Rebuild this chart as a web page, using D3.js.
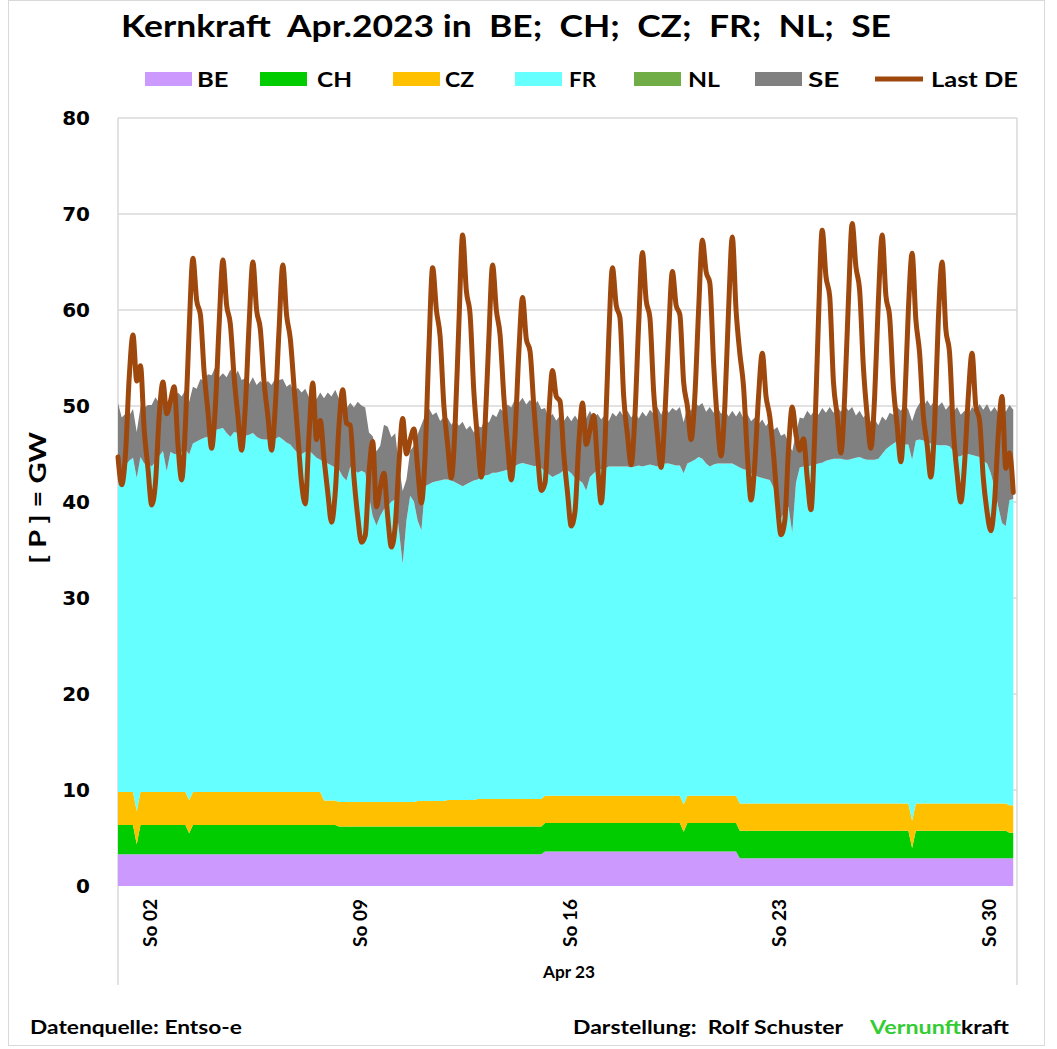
<!DOCTYPE html>
<html>
<head>
<meta charset="utf-8">
<script src="https://cdn.jsdelivr.net/npm/d3@7"></script>
<style>
html,body{margin:0;padding:0;background:#fff;}
svg{display:block;}
text{font-family:Lato,"Open Sans",sans-serif;font-weight:bold;fill:#000;white-space:pre;}
</style>
</head>
<body>
<svg id="chart" width="1057" height="1049"></svg>
<script>
// ---------------- DATA (3-hour steps, 1 Apr 2023 00:00 .. 30 Apr 2023 21:00) ----------------
const categories = ["BE","CH","CZ","FR","NL","SE"];
const colors = {BE:"#CC99FF", CH:"#00CC00", CZ:"#FFC000", FR:"#66FFFF", NL:"#70AD47", SE:"#808080"};
const loadName = "Last DE";
const loadColor = "#9E480E";
const yTicks = [0,10,20,30,40,50,60,70,80];
const xTickDays = [2,9,16,23,30];
const xTickLabels = ["So 02","So 09","So 16","So 23","So 30"];
const xAxisTitle = "Apr 23";
const title = "Kernkraft  Apr.2023 in  BE;  CH;  CZ;  FR;  NL;  SE";

const be = [
3.3,3.3,3.3,3.3,3.3,3.3,3.3,3.3, 3.3,3.3,3.3,3.3,3.3,3.3,3.3,3.3, 3.3,3.3,3.3,3.3,3.3,3.3,3.3,3.3,
3.3,3.3,3.3,3.3,3.3,3.3,3.3,3.3, 3.3,3.3,3.3,3.3,3.3,3.3,3.3,3.3, 3.3,3.3,3.3,3.3,3.3,3.3,3.3,3.3,
3.3,3.3,3.3,3.3,3.3,3.3,3.3,3.3, 3.3,3.3,3.3,3.3,3.3,3.3,3.3,3.3, 3.3,3.3,3.3,3.3,3.3,3.3,3.3,3.3,
3.3,3.3,3.3,3.3,3.3,3.3,3.3,3.3, 3.3,3.3,3.3,3.3,3.3,3.3,3.3,3.3, 3.3,3.3,3.3,3.3,3.3,3.3,3.3,3.3,
3.3,3.3,3.3,3.3,3.3,3.3,3.3,3.3, 3.3,3.3,3.3,3.3,3.3,3.3,3.3,3.3, 3.3,3.3,3.6,3.6,3.6,3.6,3.6,3.6,
3.6,3.6,3.6,3.6,3.6,3.6,3.6,3.6, 3.6,3.6,3.6,3.6,3.6,3.6,3.6,3.6, 3.6,3.6,3.6,3.6,3.6,3.6,3.6,3.6,
3.6,3.6,3.6,3.6,3.6,3.6,3.6,3.6, 3.6,3.6,3.6,3.6,3.6,3.6,3.6,3.6, 3.6,3.6,3.6,3.6,3.6,3.6,2.9,2.9,
2.9,2.9,2.9,2.9,2.9,2.9,2.9,2.9, 2.9,2.9,2.9,2.9,2.9,2.9,2.9,2.9, 2.9,2.9,2.9,2.9,2.9,2.9,2.9,2.9,
2.9,2.9,2.9,2.9,2.9,2.9,2.9,2.9, 2.9,2.9,2.9,2.9,2.9,2.9,2.9,2.9, 2.9,2.9,2.9,2.9,2.9,2.9,2.9,2.9,
2.9,2.9,2.9,2.9,2.9,2.9,2.9,2.9, 2.9,2.9,2.9,2.9,2.9,2.9,2.9,2.9, 2.9,2.9,2.9,2.9,2.9,2.9,2.9,2.9
];
const ch = [
3.05,3.05,3.05,3.05,3.05,1.05,3.05,3.05, 3.05,3.05,3.05,3.05,3.05,3.05,3.05,3.05, 3.05,3.05,3.05,2.2,3.05,3.05,3.05,3.05,
3.05,3.05,3.05,3.05,3.05,3.05,3.05,3.05, 3.05,3.05,3.05,3.05,3.05,3.05,3.05,3.05, 3.05,3.05,3.05,3.05,3.05,3.05,3.05,3.05,
3.05,3.05,3.05,3.05,3.05,3.05,3.05,3.05, 3.05,3.05,3.05,2.9,2.9,2.9,2.9,2.9, 2.9,2.9,2.9,2.9,2.9,2.9,2.9,2.9,
2.9,2.9,2.9,2.9,2.9,2.9,2.9,2.9, 2.9,2.9,2.9,2.9,2.9,2.9,2.9,2.9, 2.9,2.9,2.9,2.9,2.9,2.9,2.9,2.9,
2.9,2.9,2.9,2.9,2.9,2.9,2.9,2.9, 2.9,2.9,2.9,2.9,2.9,2.9,2.9,2.9, 2.9,2.9,2.95,2.95,2.95,2.95,2.95,2.95,
2.95,2.95,2.95,2.95,2.95,2.95,2.95,2.95, 2.95,2.95,2.95,2.95,2.95,2.95,2.95,2.95, 2.95,2.95,2.95,2.95,2.95,2.95,2.95,2.95,
2.95,2.95,2.95,2.95,2.95,2.95,2.95,2.05, 2.95,2.95,2.95,2.95,2.95,2.95,2.95,2.95, 2.95,2.95,2.95,2.95,2.95,2.95,2.85,2.85,
2.85,2.85,2.85,2.85,2.85,2.85,2.85,2.85, 2.85,2.85,2.85,2.85,2.85,2.85,2.85,2.85, 2.85,2.85,2.85,2.85,2.85,2.85,2.85,2.85,
2.85,2.85,2.85,2.85,2.85,2.85,2.85,2.85, 2.85,2.85,2.85,2.85,2.85,2.85,2.85,2.85, 2.85,2.85,2.85,2.85,1.05,2.85,2.85,2.85,
2.85,2.85,2.85,2.85,2.85,2.85,2.85,2.85, 2.85,2.85,2.85,2.85,2.85,2.85,2.85,2.85, 2.85,2.85,2.85,2.85,2.85,2.85,2.65,2.65
];
const cz = [
3.45,3.45,3.45,3.45,3.45,3.45,3.45,3.45, 3.45,3.45,3.45,3.45,3.45,3.45,3.45,3.45, 3.45,3.45,3.45,3.45,3.45,3.45,3.45,3.45,
3.45,3.45,3.45,3.45,3.45,3.45,3.45,3.45, 3.45,3.45,3.45,3.45,3.45,3.45,3.45,3.45, 3.45,3.45,3.45,3.45,3.45,3.45,3.45,3.45,
3.45,3.45,3.45,3.45,3.45,3.45,3.45,2.55, 2.55,2.55,2.55,2.55,2.55,2.55,2.55,2.55, 2.55,2.55,2.55,2.55,2.55,2.55,2.55,2.55,
2.55,2.55,2.55,2.55,2.55,2.55,2.55,2.55, 2.65,2.65,2.65,2.65,2.65,2.65,2.65,2.65, 2.75,2.75,2.75,2.75,2.75,2.75,2.75,2.75,
2.85,2.85,2.85,2.85,2.85,2.85,2.85,2.85, 2.85,2.85,2.85,2.85,2.85,2.85,2.85,2.85, 2.85,2.85,2.85,2.85,2.85,2.85,2.85,2.85,
2.85,2.85,2.85,2.85,2.85,2.85,2.85,2.85, 2.85,2.85,2.85,2.85,2.85,2.85,2.85,2.85, 2.85,2.85,2.85,2.85,2.85,2.85,2.85,2.85,
2.85,2.85,2.85,2.85,2.85,2.85,2.85,2.85, 2.85,2.85,2.85,2.85,2.85,2.85,2.85,2.85, 2.85,2.85,2.85,2.85,2.85,2.85,2.85,2.85,
2.85,2.85,2.85,2.85,2.85,2.85,2.85,2.85, 2.85,2.85,2.85,2.85,2.85,2.85,2.85,2.85, 2.85,2.85,2.85,2.85,2.85,2.85,2.85,2.85,
2.85,2.85,2.85,2.85,2.85,2.85,2.85,2.85, 2.85,2.85,2.85,2.85,2.85,2.85,2.85,2.85, 2.85,2.85,2.85,2.85,2.85,2.85,2.85,2.85,
2.85,2.85,2.85,2.85,2.85,2.85,2.85,2.85, 2.85,2.85,2.85,2.85,2.85,2.85,2.85,2.85, 2.85,2.85,2.85,2.85,2.85,2.85,2.85,2.85
];
const fr = [
33.2,33.0,34.0,34.5,34.8,34.7,34.9,34.2, 34.2,33.9,34.4,35.0,35.5,33.4,35.4,35.2, 35.2,35.4,35.7,36.0,36.3,36.5,36.7,36.9,
37.0,37.4,37.7,37.8,37.9,37.4,37.0,37.5, 37.4,37.2,37.1,37.2,37.4,37.0,36.8,36.7, 36.7,36.6,36.8,37.0,36.7,36.4,36.2,35.7,
35.3,35.2,35.4,35.6,35.2,34.8,34.6,35.3, 35.1,34.9,34.7,34.6,33.9,33.5,34.9,34.6, 34.3,34.5,34.3,31.8,29.8,28.8,29.8,30.5,
30.8,31.3,31.5,28.3,24.8,29.3,31.9,31.3, 29.2,28.2,32.8,33.0,33.2,33.3,33.4,33.5, 33.4,33.3,33.1,32.9,32.7,32.9,33.1,33.3,
33.3,33.5,33.7,33.8,34.0,34.0,34.1,34.2, 34.3,34.5,34.7,34.9,35.0,34.9,34.8,34.7, 34.7,34.5,33.8,33.5,33.2,33.4,33.6,33.9,
33.9,33.6,33.1,32.9,32.6,31.8,33.2,33.6, 33.9,34.0,34.1,34.3,34.3,34.3,34.3,34.3, 34.3,34.2,34.3,34.4,34.3,34.4,34.5,34.4,
34.3,34.4,34.6,34.6,34.5,34.4,34.4,34.5, 34.6,34.8,35.0,35.3,35.1,34.6,34.3,34.5, 34.6,34.6,34.6,34.6,34.6,34.4,35.0,34.8,
34.7,34.4,34.2,34.0,33.9,33.8,33.7,32.9, 31.4,29.7,30.4,30.9,28.2,33.4,35.0,35.1, 35.1,35.2,35.3,35.4,35.5,35.7,35.8,35.9,
35.9,35.9,35.8,35.8,35.9,36.0,36.1,35.9, 35.8,35.8,35.8,35.9,36.4,36.9,37.2,37.5, 37.7,37.6,37.4,37.4,37.6,37.8,37.9,37.8,
37.6,37.5,37.4,37.3,37.3,37.3,37.2,36.7, 36.1,36.2,36.4,36.4,36.3,36.2,36.1,35.7, 35.4,34.4,32.9,30.9,29.2,28.9,31.8,31.9
];
const nl = [
0,0,0,0,0,0,0,0, 0,0,0,0,0,0,0,0, 0,0,0,0,0,0,0,0, 0,0,0,0,0,0,0,0, 0,0,0,0,0,0,0,0, 0,0,0,0,0,0,0,0,
0,0,0,0,0,0,0,0, 0,0,0,0,0,0,0,0, 0,0,0,0,0,0,0,0, 0,0,0,0,0,0,0,0, 0,0,0,0,0,0,0,0, 0,0,0,0,0,0,0,0,
0,0,0,0,0,0,0,0, 0,0,0,0,0,0,0,0, 0,0,0,0,0,0,0,0, 0,0,0,0,0,0,0,0, 0,0,0,0,0,0,0,0, 0,0,0,0,0,0,0,0,
0,0,0,0,0,0,0,0, 0,0,0,0,0,0,0,0, 0,0,0,0,0,0,0,0, 0,0,0,0,0,0,0,0, 0,0,0,0,0,0,0,0, 0,0,0,0,0,0,0,0,
0,0,0,0,0,0,0,0, 0,0,0,0,0,0,0,0, 0,0,0,0,0,0,0,0, 0,0,0,0,0,0,0,0, 0,0,0,0,0,0,0,0, 0,0,0,0,0,0,0,0
];
const se = [
7.3,6.0,5.4,4.7,5.1,4.8,5.2,5.8, 6.1,6.4,6.7,5.5,5.3,6.0,5.9,5.7, 6.4,5.8,6.2,5.5,5.9,5.5,6.3,5.9,
6.5,6.0,6.6,5.4,5.7,5.8,7.0,5.6, 6.5,5.7,6.0,5.3,5.8,5.4,6.0,5.7, 6.1,5.8,6.3,5.9,6.3,5.8,6.3,5.9,
6.8,6.4,6.6,5.5,6.3,6.1,7.0,6.6, 7.4,7.2,8.1,7.4,8.0,7.5,6.7,6.5, 7.4,6.8,6.8,6.7,8.3,7.7,7.3,8.8,
8.3,6.7,6.9,6.7,7.6,4.3,4.7,5.8, 9.0,11.0,7.4,7.9,7.0,7.2,6.2,6.5, 6.4,5.8,6.5,6.1,6.7,5.7,5.9,5.0,
5.6,5.2,5.9,5.4,6.1,5.8,6.6,6.1, 6.8,6.3,7.0,6.4,6.8,6.2,6.8,6.2, 6.8,6.1,6.6,5.8,6.6,5.7,6.0,5.1,
5.7,5.4,6.5,6.1,7.1,7.5,6.9,5.7, 5.9,5.2,5.6,4.7,5.6,5.2,5.8,5.2, 5.8,5.2,5.6,4.9,5.7,5.1,5.7,5.4,
6.2,5.3,6.0,5.3,5.9,5.7,6.1,5.3, 5.9,5.3,6.0,5.3,5.8,5.4,6.2,5.4, 5.9,5.2,5.6,4.9,5.5,5.1,5.9,5.3,
5.9,5.4,6.0,5.5,6.1,5.5,6.2,6.0, 7.8,8.6,8.1,6.7,8.5,5.2,5.2,5.0, 5.8,5.2,5.7,5.1,5.7,5.0,5.5,4.8,
5.4,4.9,5.7,5.1,5.4,4.4,4.8,4.3, 4.9,3.9,4.2,3.5,3.9,3.0,3.5,3.0, 3.6,3.3,4.2,3.6,4.0,3.2,3.8,3.5,
4.4,3.9,4.6,4.1,4.5,3.7,4.3,4.1, 5.2,4.3,4.5,4.1,5.0,4.7,5.5,5.3, 6.2,6.4,8.4,9.8,12.1,11.9,9.9,9.3
];
const lastDE = [
44.7,41.8,45.0,53.0,57.4,52.6,54.2,47.5, 43.5,39.7,42.0,49.0,52.5,49.2,50.5,52.0, 46.0,42.3,48.0,58.0,65.4,61.0,59.5,53.5,
49.5,45.6,50.0,58.5,65.2,60.5,58.5,53.0, 49.0,45.4,50.0,58.5,65.0,60.0,58.0,52.5, 49.0,45.4,50.0,58.0,64.7,59.5,57.0,52.0,
47.0,42.0,39.8,47.0,52.4,46.5,48.5,44.5, 41.0,37.9,41.0,48.0,51.7,48.2,48.0,42.5, 38.5,35.8,36.5,43.0,46.3,39.5,41.5,43.0,
38.5,35.3,37.5,44.0,48.7,45.0,46.5,47.6, 43.5,39.9,45.0,56.0,64.4,60.0,57.2,50.0, 46.0,42.5,48.0,58.5,67.8,62.0,59.5,51.5,
46.5,42.6,48.0,57.0,64.7,60.0,57.4,51.0, 46.0,42.3,47.0,55.5,61.3,57.0,55.7,50.0, 45.0,41.2,42.0,49.0,53.7,51.0,50.5,45.0,
41.0,37.5,39.0,46.0,50.3,46.0,47.5,49.0, 44.0,39.9,46.0,57.0,64.4,60.5,59.2,51.0, 47.0,43.9,49.0,58.5,66.0,61.0,59.2,51.5,
47.0,43.6,49.0,57.5,64.0,60.5,59.5,52.5, 50.0,46.5,51.0,60.0,67.3,64.0,62.8,54.5, 48.5,44.8,50.0,60.0,67.6,60.0,55.5,52.0,
45.0,40.2,44.0,51.0,55.5,51.0,48.9,45.0, 40.0,36.6,38.0,45.5,49.9,47.0,45.4,46.6, 42.5,39.2,47.0,59.0,68.3,63.5,61.4,52.5,
49.0,45.1,51.0,61.0,69.0,64.5,62.0,54.0, 49.0,45.6,51.0,61.0,67.8,61.5,59.3,52.0, 48.0,44.2,50.0,60.0,65.9,59.0,55.5,49.0,
46.0,42.6,48.0,59.0,65.0,58.0,55.5,47.5, 43.0,40.0,44.0,51.0,55.5,50.0,48.5,42.5, 39.0,37.0,40.0,47.0,51.0,43.5,45.1,41.0
];
const seriesValues = {BE:be, CH:ch, CZ:cz, FR:fr, NL:nl, SE:se};

// ---------------- LAYOUT ----------------
const W = 1057, H = 1049;
const plot = {left:118, right:1017, top:118, bottom:886};
const t0 = Date.UTC(2023,3,1);
const stepMs = 3*3600*1000;
const timeAt = i => new Date(t0 + i*stepMs);

const svg = d3.select("#chart");
svg.append("rect").attr("x",0).attr("y",0).attr("width",W).attr("height",H).attr("fill","#fff");
// outer chart border
svg.append("rect").attr("x",8.5).attr("y",0.5).attr("width",1036).attr("height",1045)
  .attr("fill","none").attr("stroke","#d9d9d9").attr("stroke-width",1);

const x = d3.scaleUtc().domain([new Date(t0), new Date(Date.UTC(2023,4,1))]).range([plot.left, plot.right]);
const y = d3.scaleLinear().domain([0,80]).range([plot.bottom, plot.top]);

// gridlines
svg.append("g").selectAll("line").data(yTicks.filter(v=>v>0)).join("line")
  .attr("x1",plot.left).attr("x2",plot.right)
  .attr("y1",d=>y(d)).attr("y2",d=>y(d))
  .attr("stroke","#d9d9d9").attr("stroke-width",1.5);

// plot-area side lines
[plot.left, plot.right].forEach(px=>{
  svg.append("line").attr("x1",px).attr("x2",px).attr("y1",plot.top).attr("y2",985)
    .attr("stroke","#d9d9d9").attr("stroke-width",1.5);
});

// stacked areas
const rows = fr.map((_,i)=>{
  const r = {t: timeAt(i)};
  categories.forEach(k=>{ r[k] = seriesValues[k][i]; });
  return r;
});
const stacked = d3.stack().keys(categories)(rows);
const area = d3.area().x(d=>x(d.data.t)).y0(d=>y(d[0])).y1(d=>y(d[1]));
svg.append("g").selectAll("path").data(stacked).join("path")
  .attr("d",area).attr("fill",d=>colors[d.key]).attr("stroke","none");

// load line
const line = d3.line().x((d,i)=>x(timeAt(i))).y(d=>y(d)).curve(d3.curveMonotoneX);
svg.append("path").datum(lastDE).attr("d",line)
  .attr("fill","none").attr("stroke",loadColor).attr("stroke-width",5)
  .attr("stroke-linejoin","round").attr("stroke-linecap","round");

// y axis labels
svg.append("g").selectAll("text").data(yTicks).join("text")
  .attr("x",90).attr("y",d=>y(d)).attr("dy","0.36em")
  .attr("text-anchor","end")
  .style("font-family","'DejaVu Sans',Verdana,sans-serif").style("font-size","20px")
  .text(d=>d);

// y axis title
svg.append("text")
  .attr("transform","translate(46,498) rotate(-90)")
  .attr("text-anchor","middle")
  .style("font-size","22px")
  .attr("textLength",132).attr("lengthAdjust","spacingAndGlyphs")
  .text("[ P ] = GW");

// x tick labels
svg.append("g").selectAll("text").data(xTickDays).join("text")
  .attr("transform",(d)=>`translate(${x(new Date(Date.UTC(2023,3,d)))+9},899) rotate(-90)`)
  .attr("text-anchor","end")
  .style("font-size","19px")
  .text((d,i)=>xTickLabels[i]);

// x axis title
svg.append("text").attr("x",569).attr("y",978).attr("text-anchor","middle")
  .style("font-size","17px")
  .attr("textLength",52).attr("lengthAdjust","spacingAndGlyphs")
  .text(xAxisTitle);

// title
svg.append("text").attr("x",121).attr("y",37)
  .style("font-size","30px")
  .attr("textLength",770).attr("lengthAdjust","spacingAndGlyphs")
  .text(title);

// legend
const legendItems = [
  {key:"BE", sx:145, tx:197, tw:31.5},
  {key:"CH", sx:260, tx:317, tw:35},
  {key:"CZ", sx:393, tx:445, tw:29},
  {key:"FR", sx:515, tx:569, tw:27},
  {key:"NL", sx:634, tx:688, tw:32},
  {key:"SE", sx:755, tx:808, tw:31.5},
  {key:loadName, sx:875, tx:931, tw:87, isLine:true}
];
const lg = svg.append("g");
legendItems.forEach(it=>{
  if(it.isLine){
    lg.append("line").attr("x1",it.sx).attr("x2",it.sx+48).attr("y1",79).attr("y2",79)
      .attr("stroke",loadColor).attr("stroke-width",5);
  } else {
    lg.append("rect").attr("x",it.sx).attr("y",72).attr("width",47).attr("height",14)
      .attr("fill",colors[it.key]);
  }
  lg.append("text").attr("x",it.tx).attr("y",87).style("font-size","20px")
    .attr("textLength",it.tw).attr("lengthAdjust","spacingAndGlyphs")
    .text(it.key);
});

// footer
svg.append("text").attr("x",30).attr("y",1034).style("font-size","18px")
  .attr("textLength",212).attr("lengthAdjust","spacingAndGlyphs")
  .text("Datenquelle: Entso-e");
svg.append("text").attr("x",573).attr("y",1034).style("font-size","18px")
  .attr("textLength",270).attr("lengthAdjust","spacingAndGlyphs")
  .text("Darstellung:  Rolf Schuster");
svg.append("text").attr("x",870).attr("y",1034).style("font-size","18px")
  .style("fill","#33CC33")
  .attr("textLength",91).attr("lengthAdjust","spacingAndGlyphs")
  .text("Vernunft");
svg.append("text").attr("x",961).attr("y",1034).style("font-size","18px")
  .attr("textLength",48).attr("lengthAdjust","spacingAndGlyphs")
  .text("kraft");
</script>
</body>
</html>
